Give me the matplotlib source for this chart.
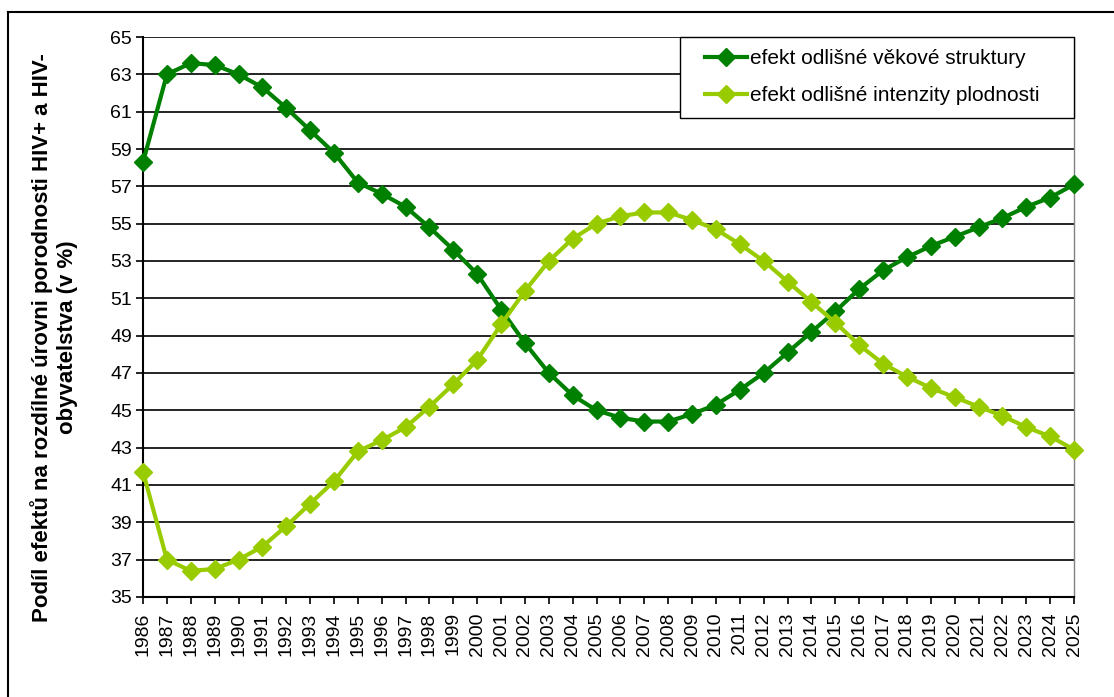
import matplotlib.pyplot as plt
from matplotlib.lines import Line2D
from matplotlib.patches import Rectangle

plt.rcParams["font.family"] = ["Liberation Sans", "DejaVu Sans"]

years = list(range(1986, 2026))
vekova_struktura = [58.3, 63.0, 63.6, 63.5, 63.0, 62.3, 61.2, 60.0, 58.8, 57.2,
                    56.6, 55.9, 54.8, 53.6, 52.3, 50.4, 48.6, 47.0, 45.8, 45.0,
                    44.6, 44.4, 44.4, 44.8, 45.3, 46.1, 47.0, 48.1, 49.2, 50.3,
                    51.5, 52.5, 53.2, 53.8, 54.3, 54.8, 55.3, 55.9, 56.4, 57.1]
intenzita_plodnosti = [41.7, 37.0, 36.4, 36.5, 37.0, 37.7, 38.8, 40.0, 41.2, 42.8,
                       43.4, 44.1, 45.2, 46.4, 47.7, 49.6, 51.4, 53.0, 54.2, 55.0,
                       55.4, 55.6, 55.6, 55.2, 54.7, 53.9, 53.0, 51.9, 50.8, 49.7,
                       48.5, 47.5, 46.8, 46.2, 45.7, 45.2, 44.7, 44.1, 43.6, 42.9]
series_names = ["efekt odlišné věkové struktury",
                "efekt odlišné intenzity plodnosti"]
colors = ["#008000", "#99CC00"]

fig = plt.figure(figsize=(11.14, 6.97), dpi=100)
ax = fig.add_axes([0.1284, 0.1435, 0.8357, 0.8034])

x = list(range(len(years)))
for vals, name, c in zip([vekova_struktura, intenzita_plodnosti], series_names, colors):
    ax.plot(x, vals, color=c, lw=3, marker="D", markersize=9,
            markeredgecolor=c, label=name, zorder=3, clip_on=False)

ax.set_xlim(0, len(years) - 1)
ax.set_ylim(35, 65)
ax.set_yticks(range(35, 66, 2))
ax.set_xticks(x)
ax.set_xticklabels([str(y) for y in years], rotation=90)
ax.tick_params(labelsize=14, direction="out", length=5, width=1.2, color="black", pad=3)
ax.tick_params(axis="x", pad=6)

ax.grid(axis="y", color="black", lw=1.2)
ax.set_axisbelow(True)
for side in ["left", "bottom"]:
    ax.spines[side].set_linewidth(1.5)
ax.spines["top"].set_visible(False)
ax.spines["right"].set_color("#808080")
ax.spines["right"].set_linewidth(1)

fig.text(0.0485, 0.516,
         "Podíl efektů na rozdílné úrovni porodnosti HIV+ a HIV-\nobyvatelstva (v %)",
         rotation=90, ha="center", va="center", fontsize=16, fontweight="bold",
         linespacing=1.2)

# legend box drawn by hand, legend itself without frame
ax.add_patch(Rectangle((0.5768, 0.855), 0.4232, 0.145, transform=ax.transAxes,
                       facecolor="white", edgecolor="black", lw=1, zorder=4,
                       clip_on=False))
handles = [Line2D([], [], color=c, lw=3, marker="D", markersize=9) for c in colors]
leg = ax.legend(handles, series_names, loc="center left",
                bbox_to_anchor=(0.6037, 0.9286), fontsize=15, frameon=False,
                handlelength=2.0, handletextpad=0.15, labelspacing=0.85,
                borderpad=0, borderaxespad=0)
leg.set_zorder(5)

# outer frame, running off the right and bottom edges
fig.add_artist(Line2D([0.0072, 0.0072], [0.983, -0.05], color="black", lw=1.5,
                      transform=fig.transFigure))
fig.add_artist(Line2D([0.0072, 1.05], [0.983, 0.983], color="black", lw=1.5,
                      transform=fig.transFigure))

fig.savefig("out.png", dpi=100)
